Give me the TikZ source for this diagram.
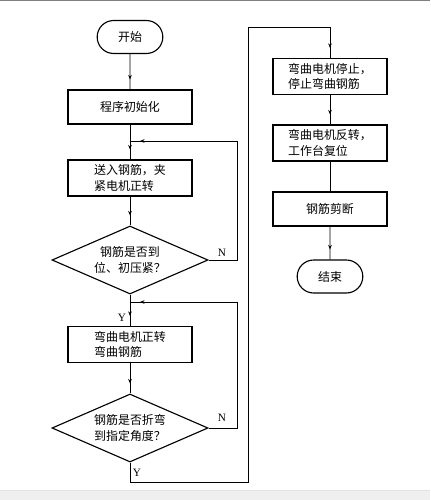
\documentclass[tikz,border=0pt]{standalone}
\usepackage{fontspec}
\setmainfont{Liberation Serif}
\newfontfamily\cjk{Noto Sans CJK SC}
\usetikzlibrary{shapes.geometric, shapes.misc, arrows.meta, decorations.markings}
\definecolor{framegray}{HTML}{7F7F7F}
\definecolor{bandgray}{HTML}{EFEFEF}
\definecolor{bandline}{HTML}{E2E2E2}

\begin{document}
\begin{tikzpicture}[
    x=0.025cm, y=-0.025cm,
    terminal/.style={
        draw,
        line width=0.8pt,
        rounded rectangle,
        minimum width=1.875cm,
        minimum height=0.825cm,
        font=\cjk\fontsize{8.5}{11}\selectfont
    },
    process/.style={
        draw,
        line width=0.85pt,
        minimum width=3.1cm,
        minimum height=0.85cm,
        align=left,
        font=\cjk\fontsize{8.5}{11}\selectfont
    },
    decision/.style={
        draw,
        line width=0.8pt,
        diamond,
        aspect=2.3,
        inner sep=0pt,
        minimum width=3.9cm,
        minimum height=1.7cm,
        align=center,
        font=\cjk\fontsize{8.5}{11}\selectfont
    },
    line/.style={
        line width=0.7pt
    },
    arrow/.style={
        line,
        postaction={decorate},
        decoration={markings, mark=at position -0.25cm with {\arrow{Stealth[length=3.2pt, width=2.6pt]}}}
    },
    yn/.style={
        font=\fontsize{8}{10}\selectfont
    }
]

% Frame of the page
\useasboundingbox (0,0) rectangle (430,500);
\fill[framegray] (0,0) rectangle (430,1.5);
\fill[bandgray] (0,490) rectangle (430,500);
\draw[bandline, line width=0.5pt] (0,490) -- (430,490);

% Left column
\node[terminal] (start) at (130,37) {开始};
\node[process] (init) at (130,107) {程序初始化};
\coordinate (j1) at (130,141);
\node[process] (feed) at (130,178) {送入钢筋，夹\\紧电机正转};
\node[decision] (check1) at (130,260) {钢筋是否到\\位、初压紧？};
\coordinate (j2) at (130,302);
\node[process] (bend) at (130,344.5) {弯曲电机正转\\弯曲钢筋};
\node[decision] (check2) at (130,428) {钢筋是否折弯\\到指定角度？};

% Right column
\node[process, minimum width=2.85cm, minimum height=0.825cm] (stop) at (330,76.5) {弯曲电机停止，\\停止弯曲钢筋};
\node[process, minimum width=2.85cm, minimum height=0.8cm] (reverse) at (330,143) {弯曲电机反转，\\工作台复位};
\node[process, minimum width=2.85cm, minimum height=0.85cm, align=center] (cut) at (330,209) {钢筋剪断};
\node[terminal] (finish) at (330,276.5) {结束};

% Corners of the loops
\coordinate (n1) at (237,141);
\coordinate (n2) at (237,302);
\coordinate (b1) at (248,482);
\coordinate (t1) at (248,27);

% Main flow
\draw[arrow] (start) -- (init);
\draw[line] (init) -- (j1);
\draw[arrow] (j1) -- (feed);
\draw[arrow] (feed) -- (check1);
\draw[line] (check1) -- (j2);
\draw[arrow] (j2) -- (bend);
\draw[arrow] (bend) -- (check2);

% Loops back
\draw[arrow] (check1.east) -| (n1) -- (j1);
\draw[arrow] (check2.east) -| (n2) -- (j2);

% Over to the right column
\draw[arrow] (check2.south) |- (b1) -- (t1) -| (stop.north);
\draw[arrow] (stop) -- (reverse);
\draw[line] (reverse) -- (cut);
\draw[arrow] (cut) -- (finish);

% Labels
\node[yn] at (222,253) {N};
\node[yn] at (222,418) {N};
\node[yn] at (122,318) {Y};
\node[yn] at (137,473) {Y};

\end{tikzpicture}
\end{document}
